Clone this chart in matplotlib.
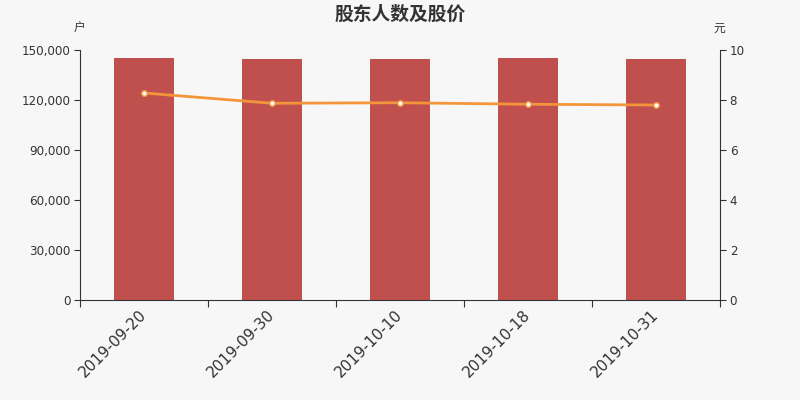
import matplotlib
matplotlib.use("Agg")
import matplotlib.pyplot as plt
import numpy as np
from matplotlib.ticker import FuncFormatter, FixedLocator

dates = ["2019-09-20", "2019-09-30", "2019-10-10", "2019-10-18", "2019-10-31"]
holders = [145400, 144600, 144700, 145000, 144600]
prices = [8.28, 7.87, 7.89, 7.83, 7.80]

title = "股东人数及股价"
left_unit = "户"
right_unit = "元"

plt.rcParams['font.family'] = ['DejaVu Sans', 'Noto Sans CJK SC']

bg = "#f7f7f7"
fig = plt.figure(figsize=(8, 4), dpi=100, facecolor=bg)
ax = fig.add_axes([0.1, 0.25, 0.8, 0.625], facecolor=bg)
x = np.arange(len(dates))
ax.bar(x, holders, width=0.47, color="#c0504d", zorder=2)
ax.set_xlim(-0.5, len(dates) - 0.5)
ax.set_ylim(0, 150000)
ax.set_yticks(np.arange(0, 150001, 30000))
ax.yaxis.set_major_formatter(FuncFormatter(lambda v, p: f"{int(v):,}"))

ax.xaxis.set_major_locator(FixedLocator(np.arange(-0.5, len(dates), 1.0)))
ax.xaxis.set_major_formatter(FuncFormatter(lambda v, p: ""))
ax.set_xticks(x, minor=True)
ax.set_xticklabels(dates, minor=True, rotation=45, ha="right", va="center",
                   rotation_mode="anchor", fontsize=11, color="#333333")
ax.tick_params(axis="x", which="minor", length=0, pad=9)
ax.tick_params(axis="x", which="major", length=5, color="#333333")
ax.tick_params(axis="y", length=4, color="#333333", labelsize=8.6, labelcolor="#333333", pad=3)

for s in ["top", "right"]:
    ax.spines[s].set_visible(False)
for s in ["left", "bottom"]:
    ax.spines[s].set_color("#333333")

ax2 = ax.twinx()
ax2.plot(x, prices, color="#f5953b", lw=2, marker="o", markersize=4,
         markerfacecolor="white", markeredgecolor="#f5953b", markeredgewidth=1, zorder=3)
ax2.set_ylim(0, 10)
ax2.set_yticks(np.arange(0, 11, 2))
ax2.tick_params(axis="y", length=4, color="#333333", labelsize=8.6, labelcolor="#333333", pad=3)
for s in ["top", "left", "bottom"]:
    ax2.spines[s].set_visible(False)
ax2.spines["right"].set_color("#333333")

fig.text(0.5, 0.965, title, ha="center", va="center", fontsize=13.5, fontweight="bold",
         color="#333333", family=["Noto Sans CJK SC"])
fig.text(0.099, 0.93, left_unit, ha="center", va="center", fontsize=8.5,
         color="#333333", family=["Noto Sans CJK SC"])
fig.text(0.899, 0.928, right_unit, ha="center", va="center", fontsize=8.5,
         color="#333333", family=["Noto Sans CJK SC"])

fig.savefig("out.png", dpi=100, facecolor=bg)
